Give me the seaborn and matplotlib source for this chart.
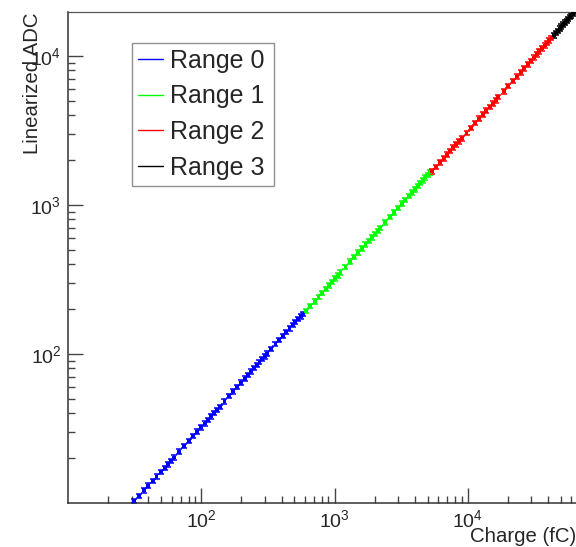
import numpy as np
import pandas as pd
import matplotlib
matplotlib.use('Agg')
import matplotlib.pyplot as plt
import seaborn as sns
from matplotlib.lines import Line2D
from matplotlib.ticker import LogLocator, FixedLocator, NullFormatter, LogFormatterMathtext

# charge (fC) and linearized ADC, one pair of lists per range
charge_r0 = [31, 34, 37, 40, 43, 46, 50, 53, 56, 59, 62, 68, 74, 81, 87, 93, 99, 106,
             112, 118, 124, 130, 137, 149, 161, 174, 186, 199, 211, 223, 236, 248, 260,
             273, 285, 298, 310, 335, 360, 385, 409, 434, 459, 484, 508, 533, 558, 583]
adc_r0 = [10.3, 11.1, 12.1, 13.0, 14.0, 15.0, 16.1, 17.1, 18.1, 19.1, 20.1, 22.0, 24.0,
          26.0, 28.0, 30.0, 32.0, 34.0, 36.0, 38.0, 40.0, 42.0, 44.0, 48.0, 52.0, 56.0,
          60.0, 64.0, 68.0, 72.0, 76.0, 80.0, 84.0, 88.0, 92.0, 96.0, 100.0, 108, 116,
          124, 132, 140, 148, 156, 163, 171, 178, 185]

charge_r1 = [608, 658, 708, 758, 808, 858, 908, 958, 1008, 1058, 1108, 1208, 1308, 1408,
             1508, 1608, 1708, 1808, 1908, 2008, 2108, 2208, 2408, 2608, 2808, 3008, 3208,
             3408, 3608, 3808, 4008, 4208, 4408, 4608, 4808, 5008, 5208]
adc_r1 = [193, 209, 224, 240, 256, 272, 288, 304, 320, 335, 351, 383, 415, 446, 478, 510,
          541, 573, 605, 637, 668, 700, 763, 827, 890, 954, 1017, 1080, 1144, 1207, 1271,
          1334, 1397, 1461, 1524, 1588, 1651]

charge_r2 = [5400, 5800, 6200, 6600, 7000, 7400, 7800, 8200, 8600, 9000, 9800, 10600,
             11400, 12200, 13000, 13800, 14600, 15400, 16200, 17000, 18600, 20200, 21800,
             23400, 25000, 26600, 28200, 29800, 31400, 33000, 34600, 36200, 37800, 39400,
             41000, 42600]
adc_r2 = [1674, 1798, 1922, 2046, 2170, 2294, 2418, 2542, 2666, 2790, 3038, 3286, 3534,
          3782, 4030, 4278, 4526, 4774, 5022, 5270, 5766, 6262, 6758, 7254, 7750, 8246,
          8742, 9238, 9734, 10230, 10726, 11222, 11718, 12214, 12710, 13206]

charge_r3 = [44200, 45800, 47400, 49000, 50600, 52200, 53800, 55400, 57000, 58600, 60200,
             61800, 63400, 65000, 66600, 68200, 70000]
adc_r3 = [13702, 14198, 14694, 15190, 15686, 16182, 16678, 17174, 17670, 18166, 18662,
          19158, 19654, 20150, 20646, 21142, 21700]

range_names = ['Range 0', 'Range 1', 'Range 2', 'Range 3']
range_colors = ['#0000ff', '#00ff00', '#ff0000', '#000000']
major_ticks = [1e2, 1e3, 1e4]

frames = []
for name, q, a in zip(range_names,
                      [charge_r0, charge_r1, charge_r2, charge_r3],
                      [adc_r0, adc_r1, adc_r2, adc_r3]):
    frames.append(pd.DataFrame({'charge': q, 'adc': a, 'range': name}))
df = pd.concat(frames, ignore_index=True)

sns.set_style('ticks')
plt.rcParams['font.family'] = ['Liberation Sans', 'DejaVu Sans']
plt.rcParams['mathtext.default'] = 'regular'

fig = plt.figure(figsize=(5.76, 5.47), dpi=100)
ax = fig.add_axes([68.3 / 576, 44.3 / 547, 532.5 / 576, 490.5 / 547])

# ROOT-ish error bars (style only, relative size)
for name, col in zip(range_names, range_colors):
    sub = df[df['range'] == name]
    ax.errorbar(sub['charge'], sub['adc'], yerr=sub['adc'] * 0.035, fmt='none',
                ecolor=col, elinewidth=1.1, capsize=2.0, capthick=1.1, zorder=2)

sns.scatterplot(data=df, x='charge', y='adc', hue='range', palette=range_colors,
                marker='s', s=8, linewidth=0, legend=False, ax=ax, zorder=3)

ax.set_xscale('log')
ax.set_yscale('log')
ax.set_xlim(10, 1e5)
ax.set_ylim(10, 1.96e4)
ax.set_xlabel('')
ax.set_ylabel('')

for axis in (ax.xaxis, ax.yaxis):
    axis.set_major_locator(FixedLocator(major_ticks))
    axis.set_minor_locator(LogLocator(base=10, subs=np.arange(2, 10)))
    axis.set_minor_formatter(NullFormatter())
    axis.set_major_formatter(LogFormatterMathtext())

ax.tick_params(which='both', direction='in', color='#444444', width=1.0,
               labelsize=14, top=False, right=False)
ax.tick_params(which='major', length=10.5, pad=5)
ax.tick_params(which='minor', length=5)

for sp in ax.spines.values():
    sp.set_color('#333333')
    sp.set_linewidth(1.1)
ax.spines['top'].set_color('#555555')
ax.spines['top'].set_linewidth(0.9)

fig.text(1.0, 1 - 537 / 547, 'Charge (fC)', ha='right', va='center', fontsize=14.7)
fig.text(32 / 576, 1 - 12 / 547, 'Linearized ADC', rotation=90, ha='center',
         va='top', fontsize=14.7)

handles = [Line2D([0], [0], color=c, lw=1.0) for c in range_colors]
leg = fig.legend(handles, range_names, loc='upper left',
                 bbox_to_anchor=(132 / 576, 1 - 184 / 547, 142 / 576, 141 / 547),
                 mode='expand', fontsize=18, frameon=True, fancybox=False,
                 edgecolor='#777777', handlelength=1.0, handletextpad=0.3,
                 labelspacing=0.46, borderpad=0.24, borderaxespad=0)
leg.get_frame().set_linewidth(1.0)

fig.savefig('out.png', dpi=100)
